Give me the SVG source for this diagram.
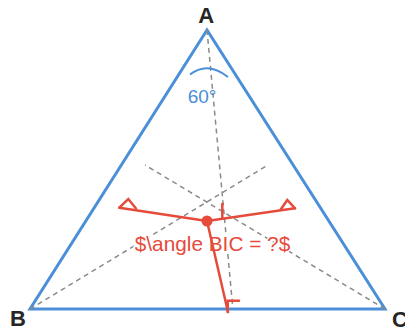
<svg xmlns="http://www.w3.org/2000/svg" width="405" height="333" viewBox="0 0 405 333">
<style>
.tri{fill:none;stroke:#4a8fd8;stroke-width:3;stroke-linejoin:miter}
.dash{fill:none;stroke:#8a8a8a;stroke-width:1.5;stroke-dasharray:5 4}
.red{fill:none;stroke:#e64a3b;stroke-width:2.5;stroke-linecap:round;stroke-linejoin:miter}
.lbl{font-family:"Liberation Sans",Arial,sans-serif;font-weight:bold;font-size:22px;fill:#262626}
.ang{font-family:"Liberation Sans",Arial,sans-serif;font-size:19px;fill:#4a8fd8}
.q{font-family:"Liberation Sans",Arial,sans-serif;font-size:20.8px;fill:#e64a3b;stroke:#fff;stroke-width:3;paint-order:stroke}
</style>
<rect width="405" height="333" fill="#fff"/>
<g id="triangle">
<polygon class="tri" points="207,30 30,309 385,309"/>
</g>
<g id="connectors">
<line class="dash" x1="207" y1="30" x2="232.7" y2="306.7"/>
<line class="dash" x1="30" y1="309" x2="268" y2="165"/>
<line class="dash" x1="385" y1="309" x2="145" y2="165"/>
</g>
<g id="angle-A">
<path d="M190,74.5 Q207.6,60.8 228,77" fill="none" stroke="#4a8fd8" stroke-width="2"/>
<text class="ang" x="202" y="103.3" text-anchor="middle">60°</text>
</g>
<g id="question">
<text class="q" x="212.5" y="251" text-anchor="middle">$\angle BIC = ?$</text>
</g>
<g id="incenter">
<line class="red" x1="207" y1="221" x2="119.3" y2="207.7"/>
<line class="red" x1="207" y1="221" x2="295" y2="208.3"/>
<line class="red" x1="207" y1="221" x2="228" y2="312"/>
<polyline class="red" points="119.3,207.7 128.3,199 136,208.5"/>
<polyline class="red" points="280.7,209.5 287.3,200 295,208.3"/>
<polyline class="red" points="222.3,218.5 222.3,204"/>
<polyline class="red" points="227.7,312 227.7,300.7 239,300.7"/>
<circle cx="207" cy="221" r="5.5" fill="#e64a3b"/>
</g>
<g id="labels">
<text class="lbl" x="206.3" y="23.3" text-anchor="middle">A</text>
<text class="lbl" x="10" y="326">B</text>
<text class="lbl" x="392" y="326.5">C</text>
</g>
</svg>
